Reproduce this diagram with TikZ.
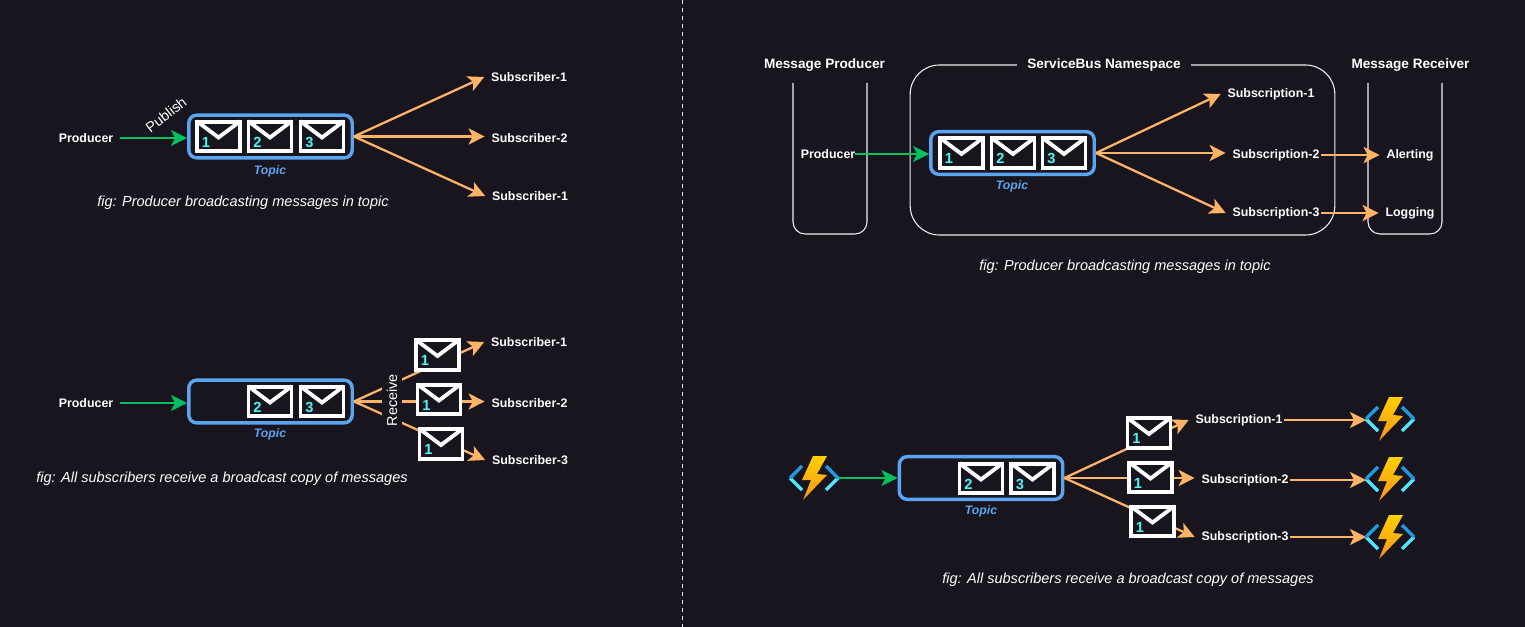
\documentclass[tikz,border=0pt]{standalone}
\usepackage{fontspec}
\setmainfont{Liberation Sans}
\usetikzlibrary{arrows.meta,calc}
\definecolor{pagebg}{HTML}{18151E}
\definecolor{topicblue}{HTML}{5AA5F0}
\definecolor{flowgreen}{HTML}{00C060}
\definecolor{floworange}{HTML}{FFB366}
\definecolor{digitcyan}{HTML}{4EF5F0}
\definecolor{framegrey}{HTML}{F0F0F0}
\definecolor{boltyellow}{HTML}{FFD000}
\definecolor{boltorange}{HTML}{F7941E}
\definecolor{bracketdark}{HTML}{1F9AE0}
\definecolor{bracketlight}{HTML}{50E6FF}
\begin{document}
\begin{tikzpicture}
    [x=0.75pt, y=-0.75pt,
    tip/.style = {-{Stealth[length=12pt, width=12pt, inset=3pt]}},
    sendline/.style = {tip, draw=flowgreen, line width=1.7pt},
    fanline/.style = {tip, draw=floworange, line width=1.7pt},
    chainline/.style = {fanline, shorten <=-4pt},
    name text/.style = {text=white, font=\fontsize{9.3}{11}\selectfont\bfseries, inner sep=5pt, yshift=-0.75pt},
    head text/.style = {text=white, font=\fontsize{10.2}{12}\selectfont\bfseries, inner sep=2pt},
    note text/.style = {text=white, font=\fontsize{10.9}{12}\selectfont\itshape, inner sep=1pt, yshift=-1pt},
    verb text/.style = {text=white, font=\fontsize{10.8}{12}\selectfont, inner sep=1pt},
    topic text/.style = {text=topicblue, font=\fontsize{9.2}{11}\selectfont\bfseries\itshape, inner sep=1pt, yshift=-0.75pt},
    topicbox/.style = {draw=topicblue, line width=2.6pt, rounded corners=6pt,
        minimum width=122.6pt, minimum height=32pt, inner sep=0pt},
    msgbox/.style = {draw=white, fill=pagebg, line width=2.9pt,
        minimum width=32.25pt, minimum height=22pt, inner sep=0pt},
    framebox/.style = {draw=framegrey, line width=0.8pt, rounded corners=9pt},
    envelope/.pic = {
        \node[msgbox] (-box) at (0,0) {};
        \draw[draw=white, line width=2.9pt, line join=miter, shorten <=1.6pt, shorten >=1.6pt]
            (-box.north west) -- (0,1) -- (-box.north east);
        \node[text=digitcyan, font=\fontsize{11}{12}\selectfont\bfseries, inner sep=0pt] (-num) at (-12.5,5.5) {\tikzpictext};
    },
    funcicon/.pic = {
        \draw[draw=bracketlight, line width=2.5pt] (-12,12) -- (-24,0) (12,12) -- (24,0);
        \draw[draw=bracketdark, line width=2.5pt] (-12,-12) -- (-24,0) (12,-12) -- (24,0);
        \shade[top color=boltyellow, bottom color=boltorange]
            (-1,-22) -- (13,-22) -- (3,-4) -- (13,-3) -- (-11,22) -- (-3,2) -- (-12,2) -- cycle;
        \coordinate (-out) at (24,0);
        \coordinate (-in) at (-24,0);
    }
    ]
    \fill[pagebg] (0,0) rectangle (1525,627);
    \useasboundingbox (0,0) rectangle (1525,627);
    \draw[draw=framegrey, line width=0.7pt, dashed] (682,0) -- (682,627);

    % top left
    \node[name text] (prodA) at (86,137) {Producer};
    \node[topicbox] (topicA) at (270.5,136.5) {};
    \node[name text] (subA1) at (529,76) {Subscriber-1};
    \node[name text] (subA2) at (529.5,137) {Subscriber-2};
    \node[name text] (subA3) at (530,195) {Subscriber-1};
    \draw[sendline] (prodA.east) -- (prodA.east -| topicA.west);
    \draw[fanline] (topicA.east) -- (subA1.west);
    \draw[fanline] (topicA.east) -- (topicA.east -| subA2.west);
    \draw[fanline] (topicA.east) -- (subA3.west);
    \foreach \idx/\xpos in {1/218.5,2/270,3/322} {\pic (msgA\idx) at (\xpos,136.5) [pic text=\idx] {envelope};}
    \node[verb text, rotate=38] (publish) at (166,115) {Publish};
    \node[topic text] (labelA) at (270,170) {Topic};
    \node[note text] (noteA) at (243,201) {fig: Producer broadcasting messages in topic};

    % bottom left
    \node[name text] (prodB) at (86,402) {Producer};
    \node[topicbox] (topicB) at (270.5,401.5) {};
    \node[name text] (subB1) at (529,341) {Subscriber-1};
    \node[name text] (subB2) at (529.5,402) {Subscriber-2};
    \node[name text] (subB3) at (530,459) {Subscriber-3};
    \draw[sendline] (prodB.east) -- (prodB.east -| topicB.west);
    \draw[fanline] (topicB.east) -- (subB1.west);
    \draw[fanline] (topicB.east) -- (topicB.east -| subB2.west);
    \draw[fanline] (topicB.east) -- (subB3.west);
    \foreach \idx/\xpos in {2/270,3/322} {\pic (msgB\idx) at (\xpos,401.5) [pic text=\idx] {envelope};}
    \pic (msgB4) at (437.5,355) [pic text=1] {envelope};
    \pic (msgB5) at (439,399.5) [pic text=1] {envelope};
    \pic (msgB6) at (441,444) [pic text=1] {envelope};
    \node[verb text, rotate=90, fill=pagebg, inner ysep=3.5pt] (receive) at (392,400) {Receive};
    \node[topic text] (labelB) at (270,433.5) {Topic};
    \node[note text] (noteB) at (222,477) {fig: All subscribers receive a broadcast copy of messages};

    % top right
    \draw[framebox] (793,83) -- (793,234) -- (867,234) -- (867,83);
    \draw[framebox] (1368,83) -- (1368,234) -- (1442,234) -- (1442,83);
    \node[framebox, rounded corners=22pt, minimum width=318.5pt, minimum height=127.5pt] (space) at (1122.5,150) {};
    \node[head text, fill=pagebg, inner xsep=8pt] (spaceHead) at (1104,65) {ServiceBus Namespace};
    \node[head text] (prodHead) at (824.5,65) {Message Producer};
    \node[head text] (recvHead) at (1410.5,65) {Message Receiver};
    \node[name text, inner sep=0pt] (prodC) at (828,153) {Producer};
    \node[topicbox] (topicC) at (1012.5,153) {};
    \node[name text] (subC1) at (1271,93) {Subscription-1};
    \node[name text] (subC2) at (1276,154) {Subscription-2};
    \node[name text] (subC3) at (1276,212) {Subscription-3};
    \node[name text] (alerting) at (1410,154) {Alerting};
    \node[name text] (logging) at (1410,212) {Logging};
    \draw[sendline] (prodC.east) -- (prodC.east -| topicC.west);
    \draw[fanline] (topicC.east) -- (subC1.west);
    \draw[fanline] (topicC.east) -- (topicC.east -| subC2.west);
    \draw[fanline] (topicC.east) -- (subC3.west);
    \draw[chainline] (subC2.east) -- (subC2.east -| alerting.west);
    \draw[chainline] (subC3.east) -- (subC3.east -| logging.west);
    \foreach \idx/\xpos in {1/961.5,2/1013,3/1064} {\pic (msgC\idx) at (\xpos,153) [pic text=\idx] {envelope};}
    \node[topic text] (labelC) at (1012,185) {Topic};
    \node[note text] (noteC) at (1125,265) {fig: Producer broadcasting messages in topic};

    % bottom right
    \pic (funcIn) at (814,478) {funcicon};
    \node[topicbox] (topicD) at (981,478) {};
    \node[name text] (subD1) at (1239,419) {Subscription-1};
    \node[name text] (subD2) at (1245,479) {Subscription-2};
    \node[name text] (subD3) at (1245,536) {Subscription-3};
    \pic (funcA) at (1390,419) {funcicon};
    \pic (funcB) at (1390,479) {funcicon};
    \pic (funcC) at (1390,537) {funcicon};
    \draw[sendline] (funcIn-out) -- (funcIn-out -| topicD.west);
    \draw[fanline] (topicD.east) -- (subD1.west);
    \draw[fanline] (topicD.east) -- (topicD.east -| subD2.west);
    \draw[fanline] (topicD.east) -- (subD3.west);
    \draw[chainline] (subD1.east) -- (subD1.east -| funcA-in);
    \draw[chainline] (subD2.east) -- (subD2.east -| funcB-in);
    \draw[chainline] (subD3.east) -- (subD3.east -| funcC-in);
    \foreach \idx/\xpos in {2/981,3/1032.5} {\pic (msgD\idx) at (\xpos,478.5) [pic text=\idx] {envelope};}
    \pic (msgD4) at (1149,433) [pic text=1] {envelope};
    \pic (msgD5) at (1150.5,477.5) [pic text=1] {envelope};
    \pic (msgD6) at (1152.5,521.5) [pic text=1] {envelope};
    \node[topic text] (labelD) at (981,510) {Topic};
    \node[note text] (noteD) at (1128,578) {fig: All subscribers receive a broadcast copy of messages};
\end{tikzpicture}
\end{document}
